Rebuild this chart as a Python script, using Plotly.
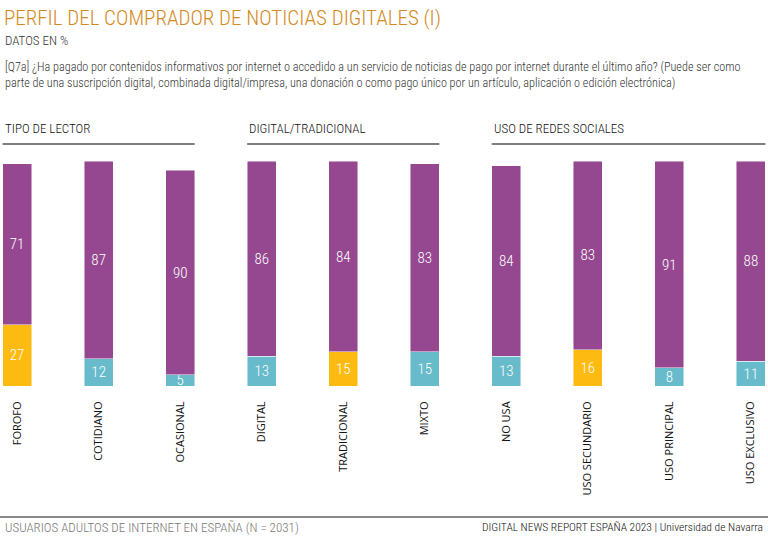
import plotly.graph_objects as go

categories = ["FOROFO", "COTIDIANO", "OCASIONAL", "DIGITAL", "TRADICIONAL", "MIXTO",
              "NO USA", "USO SECUNDARIO", "USO PRINCIPAL", "USO EXCLUSIVO"]
groups = ["TIPO DE LECTOR", "DIGITAL/TRADICIONAL", "USO DE REDES SOCIALES"]
group_of = [0, 0, 0, 1, 1, 1, 2, 2, 2, 2]
paid = [27, 12, 5, 13, 15, 15, 13, 16, 8, 11]
not_paid = [71, 87, 90, 86, 84, 83, 84, 83, 91, 88]
highlighted = ["FOROFO", "TRADICIONAL", "USO SECUNDARIO"]

PURPLE = "#954890"
YELLOW = "#FDBB12"
TEAL = "#67BBCB"
COND = "Roboto Condensed, Roboto, sans-serif"

x = list(range(len(categories)))
W, H = 768, 544

colors = [YELLOW if c in highlighted else TEAL for c in categories]

bw = 0.356
edge = dict(color="rgba(255,255,255,0.6)", width=0.8)
numfont = dict(color="white", size=15, family=COND, weight=300)
fig = go.Figure()
fig.add_trace(go.Bar(x=x, y=paid, width=bw, marker=dict(color=colors, line=edge),
                     text=[str(v) for v in paid], textposition="inside", insidetextanchor="middle",
                     textangle=0, textfont=numfont, hoverinfo="skip"))
fig.add_trace(go.Bar(x=x, y=not_paid, width=bw, marker=dict(color=PURPLE, line=edge),
                     text=[str(v) for v in not_paid], textposition="inside", insidetextanchor="middle",
                     textangle=0, textfont=numfont, hoverinfo="skip"))

y0 = 1 - 386 / H
y1 = 1 - 159 / H
fig.update_layout(
    width=W, height=H, barmode="stack", showlegend=False,
    margin=dict(l=0, r=0, t=0, b=0),
    paper_bgcolor="white", plot_bgcolor="white",
    uniformtext=dict(minsize=15, mode="show"),
    xaxis=dict(range=[-0.21, 9.21], tickvals=x, ticktext=categories, tickangle=-90,
               showgrid=False, zeroline=False, showline=False,
               ticks="outside", ticklen=10, tickcolor="rgba(0,0,0,0)",
               tickfont=dict(family="Open Sans", size=11, color="#111")),
    yaxis=dict(range=[0, 100], domain=[y0, y1], visible=False),
    font=dict(family="Open Sans"),
)

ann = []
ann.append(dict(text="PERFIL DEL COMPRADOR DE NOTICIAS DIGITALES (I)", x=2 / W, y=1 - 18 / H,
                font=dict(family=COND, size=21, color="#D3891C", weight=300)))
ann.append(dict(text="DATOS EN %", x=3 / W, y=1 - 41 / H, font=dict(family=COND, size=13, color="#333", weight=300)))
ann.append(dict(text="[Q7a] ¿Ha pagado por contenidos informativos por internet o accedido a un servicio de noticias de pago por internet durante el último año? (Puede ser como",
                x=3 / W, y=1 - 67 / H, font=dict(family=COND, size=12.2, color="#333", weight=300)))
ann.append(dict(text="parte de una suscripción digital, combinada digital/impresa, una donación o como pago único por un artículo, aplicación o edición electrónica)",
                x=3 / W, y=1 - 83 / H, font=dict(family=COND, size=12.2, color="#333", weight=300)))
ann.append(dict(text="USUARIOS ADULTOS DE INTERNET EN ESPAÑA (N = 2031)", x=3 / W, y=1 - 527 / H,
                font=dict(family=COND, size=13, color="#777", weight=300)))
ann.append(dict(text="DIGITAL NEWS REPORT ESPAÑA 2023 | Universidad de Navarra", x=765 / W, y=1 - 527 / H,
                xanchor="right", font=dict(family=COND, size=11.5, color="#111", weight=300)))
for a in ann:
    a.setdefault("xanchor", "left")
    a.update(xref="paper", yref="paper", yanchor="middle", showarrow=False)

shapes = []
for g, name in enumerate(groups):
    idx = [i for i in range(len(categories)) if group_of[i] == g]
    xl, xr = idx[0] - bw / 2, idx[-1] + bw / 2
    ann.append(dict(text=name, x=xl, xref="x", y=1 - 128 / H, yref="paper", xanchor="left", yanchor="middle",
                    showarrow=False, font=dict(family=COND, size=13, color="#111", weight=300)))
    shapes.append(dict(type="line", xref="x", yref="paper", x0=xl, x1=xr, y0=1 - 144 / H, y1=1 - 144 / H,
                       line=dict(color="#555", width=1.5)))
shapes.append(dict(type="line", xref="paper", yref="paper", x0=0, x1=1, y0=1 - 517 / H, y1=1 - 517 / H,
                   line=dict(color="#888", width=2)))
fig.update_layout(annotations=ann, shapes=shapes)
fig.write_html("out.html")
